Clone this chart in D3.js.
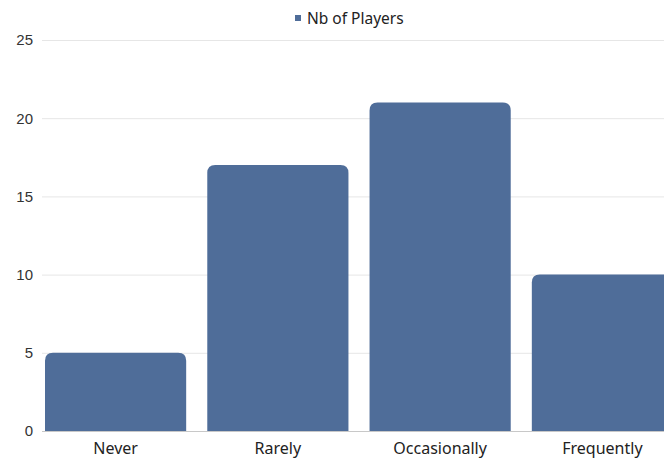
<!DOCTYPE html>
<html>
<head>
<meta charset="utf-8">
<script src="https://cdn.jsdelivr.net/npm/d3@7"></script>
<style>
  body { margin: 0; background: #fff; }
  svg { display: block; }
</style>
</head>
<body>
<svg id="chart"></svg>
<script>
// chart data
const categories = ["Never", "Rarely", "Occasionally", "Frequently"];
const players = [5, 17, 21, 10];
const yTicks = [0, 5, 10, 15, 20, 25];
const seriesName = "Nb of Players";

const width = 664, height = 460;
const svg = d3.select("#chart").attr("width", width).attr("height", height);

const x = d3.scaleBand().domain(categories).range([45, 673]).paddingInner(0.13).paddingOuter(0);
const y = d3.scaleLinear().domain([0, 25]).range([431, 40]);

// gridlines
svg.append("g")
  .selectAll("line")
  .data(yTicks)
  .join("line")
  .attr("x1", 42).attr("x2", width)
  .attr("y1", d => y(d) + 0.5).attr("y2", d => y(d) + 0.5)
  .attr("stroke", d => d === 0 ? "#c8c8c8" : "#e6e6e6")
  .attr("stroke-width", 1);

// y tick labels
svg.append("g")
  .selectAll("text")
  .data(yTicks)
  .join("text")
  .attr("x", 33)
  .attr("y", d => y(d))
  .attr("dy", "0.36em")
  .attr("text-anchor", "end")
  .attr("font-family", "Liberation Sans, Arial, sans-serif")
  .attr("font-size", 15)
  .attr("fill", "#333")
  .text(d => d);

// bars with rounded top corners
const r = 8;
function barPath(d, i) {
  const x0 = x(categories[i]), w = x.bandwidth();
  const top = y(d), base = y(0);
  return `M${x0},${base}V${top + r}Q${x0},${top} ${x0 + r},${top}H${x0 + w - r}Q${x0 + w},${top} ${x0 + w},${top + r}V${base}Z`;
}
svg.append("g")
  .selectAll("path")
  .data(players)
  .join("path")
  .attr("d", barPath)
  .attr("fill", "#4f6d99");

// category labels
svg.append("g")
  .selectAll("text")
  .data(categories)
  .join("text")
  .attr("x", d => x(d) + x.bandwidth() / 2)
  .attr("y", 454)
  .attr("text-anchor", "middle")
  .attr("font-family", "Noto Sans, sans-serif")
  .attr("font-size", 16)
  .attr("fill", "#222")
  .text(d => d);

// legend
const legend = svg.append("g");
legend.append("rect")
  .attr("x", 295).attr("y", 15).attr("width", 6).attr("height", 6)
  .attr("fill", "#4f6d99");
legend.append("text")
  .attr("x", 307).attr("y", 24)
  .attr("font-family", "Noto Sans, sans-serif")
  .attr("font-size", 15.5)
  .attr("fill", "#222")
  .text(seriesName);
</script>
</body>
</html>
